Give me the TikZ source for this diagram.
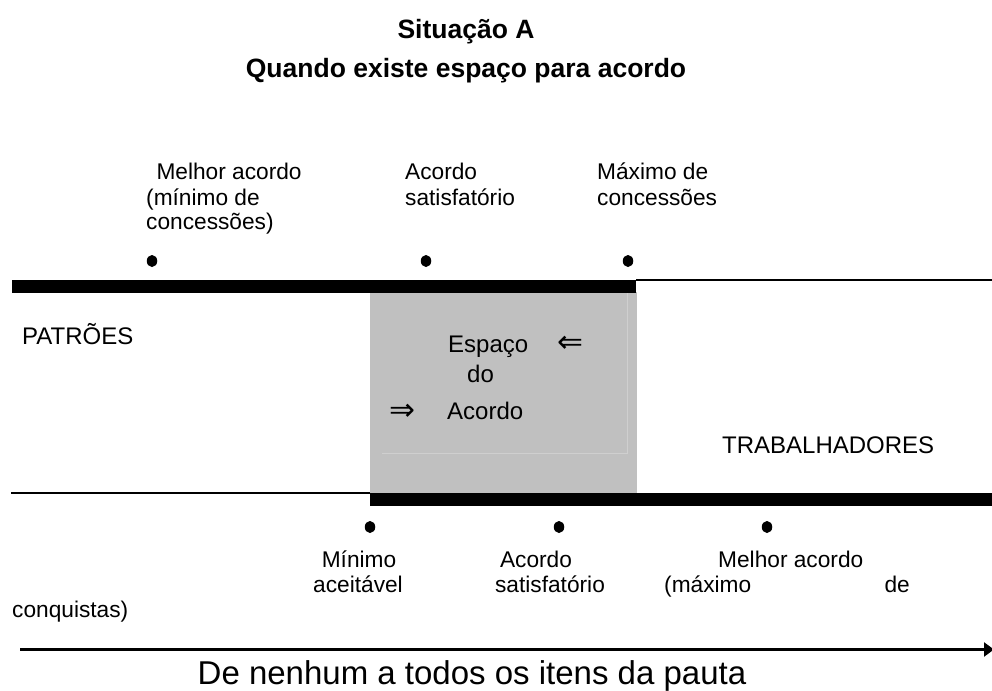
\documentclass[tikz,border=0pt]{standalone}
\usepackage{fontspec}
\setmainfont{Liberation Sans}
\newfontfamily\symfont{DejaVu Sans}
\usetikzlibrary{arrows.meta,shapes.geometric}
\definecolor{boxgray}{RGB}{192,192,192}
\definecolor{faintline}{RGB}{207,207,207}
\begin{document}
\begin{tikzpicture}[x=1pt,y=-1pt,
  ttl/.style={font=\bfseries\fontsize{26.5}{30}\selectfont, inner sep=0pt, anchor=base},
  lbl/.style={font=\fontsize{22.7}{25}\selectfont, inner sep=0pt, anchor=base west},
  lblc/.style={lbl, anchor=base},
  big/.style={font=\fontsize{24}{28}\selectfont, inner sep=0pt, anchor=base west},
  arr/.style={font=\symfont\fontsize{31}{31}\selectfont, inner sep=0pt},
  dot/.style={ellipse, fill=black, inner sep=0pt, minimum width=10.5pt, minimum height=12pt},
  thickbar/.style={fill=black},
  thinline/.style={line width=1.8pt}]
\useasboundingbox (0,0) rectangle (992,690);
\fill[white] (0,0) rectangle (992,690);

% titles
\node[ttl] (title) at (466,39) {Situação A};
\node[ttl] (subtitle) at (466,78) {Quando existe espaço para acordo};

% top labels
\node[lbl] (p1a) at (150,179) {\ Melhor acordo};
\node[lbl] (p1b) at (146,205) {(mínimo de};
\node[lbl] (p1c) at (146,229) {concessões)};
\node[lbl] (p2a) at (405,179) {Acordo};
\node[lbl] (p2b) at (405,205) {satisfatório};
\node[lbl] (p3a) at (597,179) {Máximo de};
\node[lbl] (p3b) at (597,205) {concessões};
\node[dot] (d1) at (152,261) {};
\node[dot] (d2) at (426,261) {};
\node[dot] (d3) at (628,261) {};

% agreement space
\fill[boxgray] (370,292) rectangle (637,493);
\draw[faintline, line width=0.6pt] (382,453) -- (627,453) -- (627,293);
\fill[thickbar] (12,279.5) rectangle (636,292.5);
\draw[thinline] (636,280.3) -- (992,280.3);
\draw[thinline] (11,492.8) -- (370,492.8);
\fill[thickbar] (370,492.7) rectangle (992,505.7);

\node[big] (pat) at (22,344) {PATRÕES};
\node[big] (trab) at (722,453) {TRABALHADORES};
\node[big] (esp) at (448,352.7) {Espaço};
\node[big] (do) at (467,382) {do};
\node[big] (aco) at (447,419) {Acordo};
\node[arr] (la) at (570,344) {⇐};
\node[arr] (ra) at (402,412) {⇒};

% bottom labels
\node[dot] (e1) at (370,527) {};
\node[dot] (e2) at (559,527) {};
\node[dot] (e3) at (767,527) {};
\node[lblc] (b1a) at (359,567) {Mínimo};
\node[lblc] (b1b) at (358,592) {aceitável};
\node[lblc] (b2a) at (536,567) {Acordo};
\node[lblc] (b2b) at (550,592) {satisfatório};
\node[lbl] (b3a) at (718,567) {Melhor acordo};
\node[lbl] (b3b) at (664,592) {(máximo};
\node[lbl, anchor=base east] (b3c) at (910,592) {de};
\node[lbl] (b3d) at (12,617) {conquistas)};

% axis
\coordinate (as) at (20,649.5);
\coordinate (ae) at (994,649.5);
\draw[line width=2.3pt, -{Triangle[length=10pt,width=14pt]}] (as) -- (ae);
\node[font=\fontsize{33}{36}\selectfont, inner sep=0pt, anchor=base] (pauta) at (472,684) {De nenhum a todos os itens da pauta};
\end{tikzpicture}
\end{document}
